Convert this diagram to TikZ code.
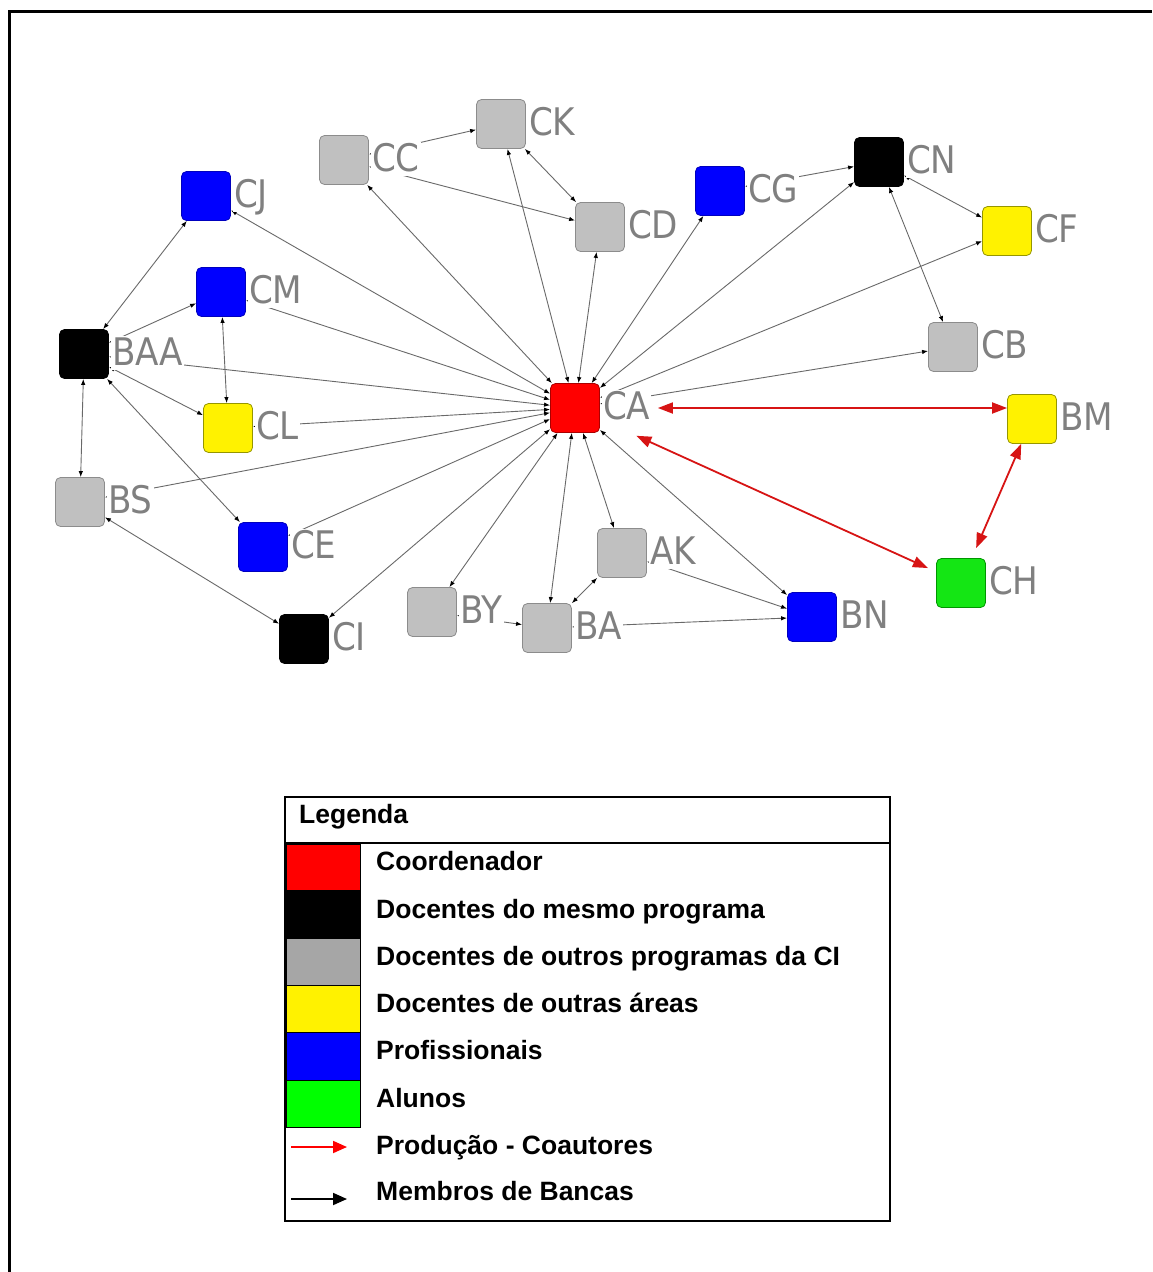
\documentclass[tikz,border=0pt]{standalone}
\usepackage{fontspec}
\setmainfont{Liberation Sans}
\newfontfamily\lblfont[FakeStretch=0.9]{DejaVu Sans}
\usetikzlibrary{arrows.meta}
\definecolor{lblgray}{RGB}{128,128,128}
\definecolor{edgegray}{RGB}{105,105,105}
\definecolor{coauth}{RGB}{215,20,20}
\definecolor{ngrayf}{RGB}{192,192,192}
\definecolor{ngrayd}{RGB}{140,140,140}
\definecolor{nblued}{RGB}{0,0,190}
\definecolor{nyeld}{RGB}{150,150,0}
\definecolor{ngreenf}{RGB}{20,230,20}
\definecolor{ngreend}{RGB}{0,150,0}
\definecolor{nredd}{RGB}{170,0,0}
\definecolor{leggray}{RGB}{166,166,166}
\definecolor{leggreen}{RGB}{0,255,0}
\begin{document}
\begin{tikzpicture}[x=1pt,y=-1pt,
  sq/.style={draw, rounded corners=5pt, minimum size=49pt, inner sep=0pt, line width=0.8pt},
  nred/.style={sq, fill=red, draw=nredd},
  ngray/.style={sq, fill=ngrayf, draw=ngrayd},
  nblue/.style={sq, fill=blue, draw=nblued},
  nblack/.style={sq, fill=black, draw=black},
  nyel/.style={sq, fill=yellow, draw=nyeld},
  ngreen/.style={sq, fill=ngreenf, draw=ngreend},
  lbl/.style={font=\lblfont\fontsize{38}{38}\selectfont, text=lblgray, fill=white,
    inner sep=1pt, anchor=base west, text height=28pt, text depth=4pt},
  tie/.style={draw=edgegray, line width=0.9pt,
    {Latex[length=6pt,width=4.5pt,color=black]}-{Latex[length=6pt,width=4.5pt,color=black]}},
  coa/.style={draw=coauth, line width=1.8pt,
    {Triangle[length=15pt,width=11pt,color=coauth]}-{Triangle[length=15pt,width=11pt,color=coauth]}},
  legtext/.style={font=\bfseries\fontsize{26.5}{30}\selectfont, anchor=base west, inner sep=0pt},
  swatch/.style={draw=black, line width=1pt}
]
\useasboundingbox (0,0) rectangle (1152,1272);
\fill[white] (0,0) rectangle (1152,1272);
% frame
\draw[line width=3pt] (9,1272) -- (9,11) -- (1152,11);

% nodes
\foreach \n/\x/\y/\s in {
  CA/575/408/nred, CC/344/160/ngray, CJ/206/196/nblue, CM/221/292/nblue,
  BAA/84/354/nblack, CK/501/124/ngray, CD/600/227/ngray, CG/720/191/nblue,
  CN/879/162/nblack, CF/1007/231/nyel, CB/953/347/ngray, BM/1032/419/nyel,
  CH/961/583/ngreen, BN/812/617/nblue, AK/622/553/ngray, BA/547/628/ngray,
  BY/432/612/ngray, CL/228/428/nyel, BS/80/502/ngray, CE/263/547/nblue,
  CI/304/639/nblack}
  {\node[\s] (\n) at (\x,\y) {};}

% black ties (Membros de Bancas)
\foreach \a/\b in {CC/CK, CC/CD, CK/CD, CC/CA, CK/CA, CD/CA, CG/CA, CG/CN,
  CN/CA, CN/CF, CN/CB, CF/CA, CB/CA, CJ/CA, CJ/BAA, BAA/CM, CM/CL, CM/CA,
  BAA/CA, BAA/CL, BAA/BS, BAA/CE, CL/CA, BS/CA, BS/CI, CE/CA, CI/CA, BY/CA,
  BA/CA, AK/CA, BN/CA, BY/BA, BA/AK, AK/BN, BA/BN}
  {\draw[tie] (\a) -- (\b);}

% labels
\foreach \n in {CA,CC,CJ,CM,BAA,CK,CD,CG,CN,CF,CB,BM,CH,BN,AK,BA,BY,CL,BS,CE,CI}
  {\node[lbl] (\n l) at ([xshift=2pt,yshift=-11pt]\n.east) {\n};}

% red ties (Producao - Coautores)
\draw[coa, shorten <=58pt] (CA.east) -- (CA.east -| BM.west);
\draw[coa, shorten <=40pt, shorten >=9pt] (CA) -- (CH);
\draw[coa, shorten >=11pt] (BM) -- (CH);

% legend
\draw[line width=1.5pt] (285,797) rectangle (890,1221);
\draw[line width=1.5pt] (285,843) -- (890,843);
\node[legtext] (Lh) at (299,823) {Legenda};
\draw[swatch, fill=red] (286,844) rectangle (360,890);
\draw[swatch, fill=black] (286,890) rectangle (360,938);
\draw[swatch, fill=leggray] (286,938) rectangle (360,985);
\draw[swatch, fill=yellow] (286,985) rectangle (360,1032);
\draw[swatch, fill=blue] (286,1032) rectangle (360,1080);
\draw[swatch, fill=leggreen] (286,1080) rectangle (360,1127);
\node[legtext] (L1) at (376,870) {Coordenador};
\node[legtext] (L2) at (376,918) {Docentes do mesmo programa};
\node[legtext] (L3) at (376,965) {Docentes de outros programas da CI};
\node[legtext] (L4) at (376,1012) {Docentes de outras áreas};
\node[legtext] (L5) at (376,1059) {Profissionais};
\node[legtext] (L6) at (376,1107) {Alunos};
\node[legtext] (L7) at (376,1154) {Produção - Coautores};
\node[legtext] (L8) at (376,1200) {Membros de Bancas};
\coordinate (ra1) at (291,1147);
\coordinate (ra2) at (347,1147);
\coordinate (ba1) at (291,1199);
\coordinate (ba2) at (347,1199);
\draw[red, line width=1.8pt, -{Triangle[length=14pt,width=12pt]}] (ra1) -- (ra2);
\draw[black, line width=1.8pt, -{Triangle[length=14pt,width=12pt]}] (ba1) -- (ba2);
\end{tikzpicture}
\end{document}
